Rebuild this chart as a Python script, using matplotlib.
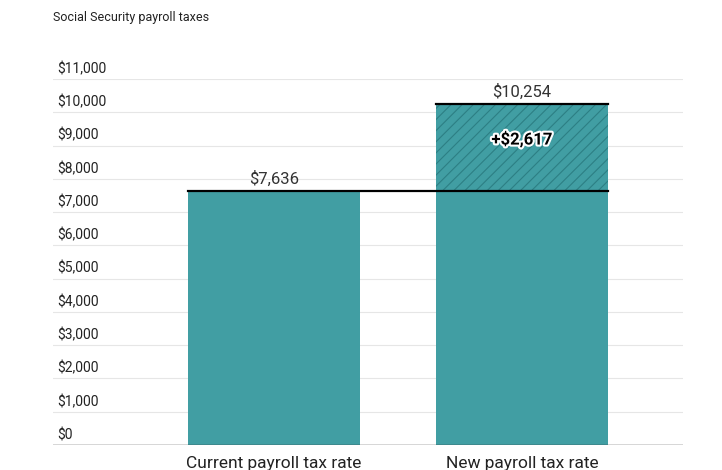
import matplotlib.pyplot as plt
import matplotlib.patheffects as pe
import matplotlib as mpl

categories = ["Current payroll tax rate", "New payroll tax rate"]
current = 7636
new = 10254
increase = 2617
yticks = list(range(0, 11001, 1000))

mpl.rcParams['font.family'] = ['Roboto', 'DejaVu Sans']
mpl.rcParams['hatch.color'] = '#1f6b70'
mpl.rcParams['hatch.linewidth'] = 0.8
color = '#419ea3'

fig = plt.figure(figsize=(7.22, 4.70), dpi=100)
ax = fig.add_axes([53/722, 25/470, 630/722, (445-79)/470])
ax.set_xlim(0, 630)
ax.set_ylim(0, 11000)
x = [135+86, 383+86]
w = 172
ax.bar(x[0], current, width=w, color=color, zorder=2)
ax.bar(x[1], current, width=w, color=color, zorder=2)
ax.bar(x[1], new-current, bottom=current, width=w, color=color, hatch='///', edgecolor='#2d7f84', linewidth=0, zorder=2)
ax.plot([x[0]-w/2, x[1]+w/2], [current, current], color='black', lw=1.6, zorder=3)
ax.plot([x[1]-w/2, x[1]+w/2], [new, new], color='black', lw=1.6, zorder=3)
ax.text(x[0], current+120, f"${current:,}", ha='center', va='bottom', fontsize=12, color='#333333')
ax.text(x[1], new+120, f"${new:,}", ha='center', va='bottom', fontsize=12, color='#333333')
ax.text(x[1], (current+new)/2+250, f"+${increase:,}", ha='center', va='center', fontsize=12,
        fontweight='bold', color='black', path_effects=[pe.withStroke(linewidth=3, foreground='white')])

for t in yticks:
    if t > 0:
        ax.axhline(t, color='#e6e6e6', lw=0.8, zorder=1)
    ax.text(4, t+300, f"${t:,}", ha='left', va='center', fontsize=10, color='#222222')
ax.axhline(0, color='#333333', lw=1, zorder=3)
ax.set_xticks(x)
ax.set_xticklabels(categories, fontsize=12.5, color='#222222')
ax.tick_params(axis='x', length=0, pad=8)
ax.set_yticks([])
for s in ax.spines.values():
    s.set_visible(False)
fig.text(53/722, 1-18/470, "Social Security payroll taxes", fontsize=9, va='center', ha='left', color='#222222')
fig.savefig('out.png', dpi=100)
